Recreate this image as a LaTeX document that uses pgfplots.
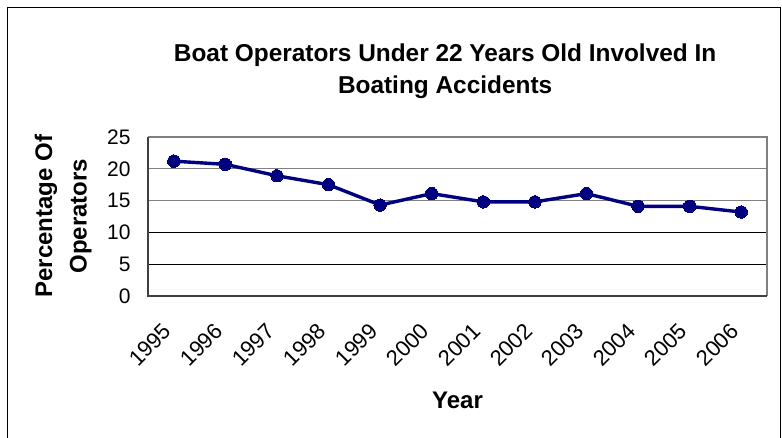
\documentclass[border=0pt]{standalone}
\usepackage{pgfplots}
\pgfplotsset{compat=1.18}
\usepackage{fontspec}
\setmainfont{Liberation Sans}

\definecolor{seriesnavy}{HTML}{000080}
\definecolor{framegray}{HTML}{808080}
\definecolor{framedark}{HTML}{404040}

% share of operators under 22, by year (index 0 = 1995)
\pgfplotstableread{
idx pct
0   21.2
1   20.7
2   18.9
3   17.5
4   14.3
5   16.1
6   14.8
7   14.8
8   16.1
9   14.1
10  14.1
11  13.2
}\operators

\begin{document}
\begin{tikzpicture}[x=1pt,y=1pt]
\useasboundingbox (0,0) rectangle (782,438);
\fill[white] (0,0) rectangle (782,438);
% outer chart frame
\draw[black, line width=1pt] (7,-5) -- (7,430) -- (780,430) -- (780,-5);
\begin{axis}[
  at={(148pt,142pt)}, anchor=south west,
  scale only axis, width=619pt, height=159pt,
  xmin=-0.5, xmax=11.5, ymin=0, ymax=25,
  xtick={0,...,11},
  xticklabels={1995,1996,1997,1998,1999,2000,2001,2002,2003,2004,2005,2006},
  ytick={0,5,10,15,20,25},
  major tick length=0pt,
  axis line style={draw=none},
  /pgf/number format/assume math mode=true,
  yticklabel style={font=\fontsize{21}{25}\selectfont, xshift=-14pt},
  xticklabel style={font=\fontsize{22}{26}\selectfont,
    anchor=east, xshift=-4pt, yshift=-29pt, rotate=45},
  title={Boat Operators Under 22 Years Old Involved In\\Boating Accidents},
  title style={at={(0.48,1.377)}, anchor=center, align=center,
    font=\fontsize{24.4}{31.7}\selectfont\bfseries},
  ylabel={Percentage Of\\Operators},
  ylabel style={at={(-0.137,0.503)}, anchor=center, align=center,
    font=\fontsize{24}{34.4}\selectfont\bfseries},
  xlabel={Year},
  xlabel style={at={(0.5,-0.654)}, anchor=center,
    font=\fontsize{24}{28}\selectfont\bfseries},
  clip=false,
]
% horizontal grid
\draw[framegray, line width=1.3pt] (axis cs:-0.5,20) -- (axis cs:11.5,20);
\draw[framegray, line width=1.3pt] (axis cs:-0.5,15) -- (axis cs:11.5,15);
\draw[black, line width=1pt] (axis cs:-0.5,10) -- (axis cs:11.5,10);
\draw[black, line width=1pt] (axis cs:-0.5,5) -- (axis cs:11.5,5);
% plot frame
\draw[framegray, line width=1.5pt] (rel axis cs:0,1) -- (rel axis cs:1,1) -- (rel axis cs:1,0);
\draw[framedark, line width=2pt] (rel axis cs:0,1) -- (rel axis cs:0,0) -- (rel axis cs:1,0);
\addplot[seriesnavy, line width=3.4pt, mark=*, mark size=6.2pt,
  mark options={fill=seriesnavy, draw=seriesnavy, line width=0pt}]
  table[x=idx, y=pct] {\operators};
\end{axis}
\end{tikzpicture}
\end{document}
